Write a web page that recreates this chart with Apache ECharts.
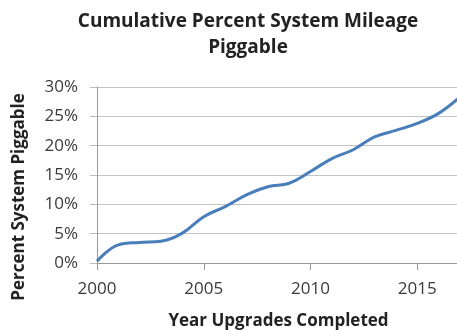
<!DOCTYPE html>
<html>
<head>
<meta charset="utf-8">
<script src="https://cdn.jsdelivr.net/npm/echarts@6/dist/echarts.min.js"></script>
<style>
  html, body { margin: 0; padding: 0; background: #fff; }
  #main { width: 457px; height: 330px; }
</style>
</head>
<body>
<div id="main"></div>
<script>
var years = [2000, 2001, 2002, 2003, 2004, 2005, 2006, 2007, 2008, 2009,
             2010, 2011, 2012, 2013, 2014, 2015, 2016, 2017];
var piggable = [0.3, 3.1, 3.5, 3.7, 5.1, 7.9, 9.6, 11.6, 13.0, 13.6,
                15.6, 17.8, 19.3, 21.5, 22.6, 23.8, 25.5, 28.3];

var myChart = echarts.init(document.getElementById('main'));

var pts = years.map(function (y, i) { return [y, piggable[i]]; });

option = {
    animation: false,
    title: {
        text: 'Cumulative Percent System Mileage\nPiggable',
        left: 243,
        textAlign: 'center',
        top: 4,
        textStyle: {
            fontFamily: 'Open Sans',
            fontWeight: 'bold',
            fontSize: 19,
            lineHeight: 26,
            color: '#222'
        }
    },
    grid: {
        left: 97,
        right: -3,
        top: 87,
        bottom: 67,
        containLabel: false,
        outerBoundsMode: 'none'
    },
    xAxis: {
        type: 'value',
        min: 2000,
        max: 2017,
        interval: 5,
        name: 'Year Upgrades Completed',
        nameLocation: 'middle',
        nameGap: 50,
        nameTextStyle: {
            fontFamily: 'Open Sans',
            fontWeight: 'bold',
            fontSize: 17,
            color: '#222'
        },
        axisLine: { lineStyle: { color: '#999' } },
        axisTick: { show: true, length: 7, lineStyle: { color: '#999' } },
        splitLine: { show: false },
        axisLabel: {
            fontFamily: 'Open Sans',
            fontSize: 17,
            color: '#3a3a3a',
            margin: 18,
            showMaxLabel: false,
            formatter: function (v) { return String(v); }
        }
    },
    yAxis: {
        type: 'value',
        min: 0,
        max: 30,
        interval: 5,
        axisLine: { show: true, lineStyle: { color: '#999' } },
        axisTick: { show: true, length: 7, lineStyle: { color: '#bbb' } },
        splitLine: { lineStyle: { color: '#c4c4c4' } },
        axisLabel: {
            fontFamily: 'Open Sans',
            fontSize: 17,
            color: '#3a3a3a',
            margin: 19,
            formatter: '{value}%'
        }
    },
    graphic: [{
        type: 'text',
        x: 19,
        y: 197,
        rotation: Math.PI / 2,
        style: {
            text: 'Percent System Piggable',
            fontFamily: 'Open Sans',
            fontWeight: 'bold',
            fontSize: 17,
            fill: '#222',
            align: 'center',
            verticalAlign: 'middle'
        }
    }],
    series: [{
        type: 'line',
        data: pts,
        smooth: 0.4,
        showSymbol: false,
        lineStyle: { color: '#4a7ebb', width: 3 }
    }]
};

myChart.setOption(option);
</script>
</body>
</html>
